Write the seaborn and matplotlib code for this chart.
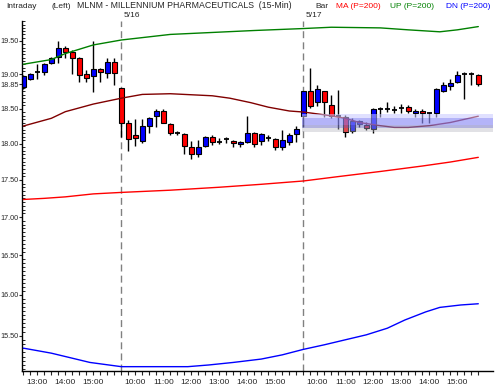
import matplotlib
matplotlib.use("Agg")
import matplotlib.pyplot as plt
import matplotlib.transforms as mtransforms
import seaborn as sns
from matplotlib.ticker import FixedLocator, FixedFormatter, NullFormatter

# 15-min bars: 5/15 12:30 -> 15:45, 5/16 and 5/17 full sessions
bar_idx = list(range(66))
opens = [18.82, 18.935, 19.03, 19.04, 19.165, 19.255, 19.39, 19.33, 19.25, 19.00,
         18.98, 19.08, 19.02, 19.18,
         18.795, 18.29, 18.125, 18.04, 18.255, 18.395, 18.47, 18.28, 18.145, 18.135,
         17.95, 17.855, 17.975, 18.09, 18.03, 18.06, 18.04, 18.00, 18.03, 18.147,
         18.043, 18.086, 18.06, 17.96, 18.03, 18.133,
         18.395, 18.756, 18.60, 18.756, 18.55, 18.40, 18.385, 18.186, 18.276, 18.267,
         18.214, 18.50, 18.495, 18.48, 18.505, 18.52, 18.435, 18.467, 18.443, 18.443,
         18.762, 18.833, 18.891, 19.00, 19.00, 18.99]
highs = [18.99, 19.025, 19.15, 19.17, 19.255, 19.50, 19.43, 19.37, 19.26, 19.065,
         19.50, 19.10, 19.24, 19.24,
         18.80, 18.34, 18.35, 18.35, 18.375, 18.50, 18.49, 18.30, 18.18, 18.15,
         18.04, 18.05, 18.11, 18.125, 18.077, 18.09, 18.055, 18.043, 18.40, 18.17,
         18.147, 18.125, 18.085, 18.196, 18.157, 18.253,
         18.76, 19.09, 18.84, 18.756, 18.70, 18.77, 18.41, 18.36, 18.336, 18.303,
         18.505, 18.52, 18.59, 18.53, 18.566, 18.553, 18.49, 18.49, 18.45, 18.795,
         18.891, 18.926, 19.05, 19.04, 19.03, 19.005]
lows = [18.78, 18.92, 18.93, 18.99, 19.15, 19.17, 19.25, 19.01, 18.89, 18.89,
        18.74, 18.89, 18.95, 18.84,
        18.10, 17.90, 17.97, 18.005, 18.15, 18.24, 18.29, 18.125, 18.125, 17.86,
        17.79, 17.82, 17.96, 17.985, 17.995, 18.005, 17.95, 17.96, 18.005, 17.96,
        17.985, 18.043, 17.915, 17.915, 17.985, 18.03,
        18.24, 18.505, 18.53, 18.375, 18.36, 18.21, 18.09, 18.147, 18.243, 18.19,
        18.147, 18.375, 18.457, 18.44, 18.443, 18.443, 18.385, 18.289, 18.289, 18.385,
        18.747, 18.77, 18.874, 18.635, 18.843, 18.829]
closes = [18.97, 19.00, 19.03, 19.15, 19.24, 19.39, 19.34, 19.25, 18.99, 18.95,
          19.075, 19.04, 19.18, 19.015,
          18.30, 18.06, 18.08, 18.25, 18.36, 18.47, 18.30, 18.15, 18.145, 17.97,
          17.855, 17.95, 18.09, 18.02, 18.03, 18.06, 18.005, 18.03, 18.15, 18.00,
          18.137, 18.086, 17.96, 18.055, 18.125, 18.21,
          18.756, 18.54, 18.78, 18.60, 18.40, 18.40, 18.16, 18.324, 18.315, 18.22,
          18.49, 18.50, 18.495, 18.48, 18.505, 18.47, 18.467, 18.435, 18.443, 18.78,
          18.843, 18.877, 18.99, 19.00, 19.00, 18.85]

# envelope lines (read at sample bars)
up_x = [0, 4, 6, 10, 14, 21, 33, 40, 44, 51, 55, 59.5, 62, 65]
up_y = [19.15, 19.22, 19.31, 19.44, 19.515, 19.60, 19.66, 19.69, 19.71, 19.70,
        19.67, 19.64, 19.67, 19.72]
ma_x = [0, 3, 6, 10, 14, 21, 28, 34, 40, 45, 51, 57, 61, 65]
ma_y = [17.235, 17.25, 17.27, 17.31, 17.33, 17.36, 17.40, 17.44, 17.485, 17.545,
        17.615, 17.69, 17.745, 17.81]
dn_x = [0, 4, 7, 9.5, 14, 23.5, 26.5, 30, 34, 37, 40, 43, 46, 49, 52, 54.5, 57.5,
        59.5, 62.5, 65]
dn_y = [15.35, 15.29, 15.23, 15.18, 15.13, 15.13, 15.15, 15.18, 15.22, 15.27,
        15.335, 15.39, 15.45, 15.51, 15.59, 15.69, 15.79, 15.845, 15.875, 15.89]
slow_x = [0, 4, 6, 10, 14, 17, 21, 23, 27, 29.5, 32.5, 35, 38, 40, 43, 46, 48, 51,
          53, 55, 58, 61, 65]
slow_y = [18.25, 18.36, 18.455, 18.565, 18.65, 18.705, 18.715, 18.705, 18.685, 18.65,
          18.585, 18.52, 18.465, 18.45, 18.41, 18.36, 18.30, 18.255, 18.23, 18.23,
          18.255, 18.30, 18.39]

day_starts = [14, 40]
day_labels = ["5/16", "5/17"]
hour_idx = [2, 6, 10, 16, 20, 24, 28, 32, 36, 42, 46, 50, 54, 58, 62]
hour_labels = ["13:00", "14:00", "15:00", "10:00", "11:00", "12:00", "13:00", "14:00",
               "15:00", "10:00", "11:00", "12:00", "13:00", "14:00", "15:00"]
price_ticks = [15.5, 16.0, 16.5, 17.0, 17.5, 18.0, 18.5, 19.0, 19.5, 18.85]

# shaded zone
zone_start = 39.75
zone_levels = [18.42, 18.37, 18.27, 18.22, 18.17]
zone_colors = ["#c8c8ff", "#8c8cf5", "#8080c8", "#b4b4be"]
zone_alpha = [0.55, 0.65, 0.6, 0.4]

sns.set_style("white")
plt.rcParams['font.family'] = ['Liberation Sans', 'DejaVu Sans']

fig = plt.figure(figsize=(4.95, 3.92), dpi=100)
ax = fig.add_axes([22 / 495, 1 - 371 / 392, 471 / 495, 350 / 392])
ax.set_yscale('log')

for d in day_starts:
    ax.axvline(d, color='#808080', lw=1, ls=(0, (5, 3)), zorder=1)

# candles
for i in bar_idx:
    o, h, l, c = opens[i], highs[i], lows[i], closes[i]
    ax.vlines(i, l, h, color='black', lw=1, zorder=2)
    if o == c:
        ax.hlines(c, i - 0.4, i + 0.4, color='black', lw=1.3, zorder=2)
    else:
        col = 'blue' if c > o else 'red'
        ax.bar(i, abs(c - o), bottom=min(o, c), width=0.72, color=col,
               edgecolor='black', linewidth=0.8, zorder=2)

sns.lineplot(x=up_x, y=up_y, ax=ax, color='#008000', lw=1, zorder=3)
sns.lineplot(x=ma_x, y=ma_y, ax=ax, color='#ff0000', lw=1, zorder=3)
sns.lineplot(x=dn_x, y=dn_y, ax=ax, color='#0000ff', lw=1, zorder=3)
sns.lineplot(x=slow_x, y=slow_y, ax=ax, color='#800000', lw=1, zorder=3)

xmax = 67.1
for k in range(len(zone_colors)):
    ax.fill_between([zone_start, xmax], zone_levels[k + 1], zone_levels[k],
                    color=zone_colors[k], alpha=zone_alpha[k], lw=0, zorder=4)

ax.set_xlim(-0.19, xmax)
ax.set_ylim(15.079, 19.806)

ax.xaxis.set_major_locator(FixedLocator(hour_idx))
ax.xaxis.set_major_formatter(FixedFormatter(hour_labels))
ax.xaxis.set_minor_locator(FixedLocator(bar_idx))
ax.tick_params(axis='x', which='both', direction='out', length=3, width=0.8,
               labelsize=6, pad=3, bottom=True)

ax.yaxis.set_major_locator(FixedLocator(price_ticks))
ax.yaxis.set_major_formatter(FixedFormatter([f"{p:.2f}" for p in price_ticks]))
ax.yaxis.set_minor_locator(FixedLocator([15.1 + 0.05 * k for k in range(95)]))
ax.yaxis.set_minor_formatter(NullFormatter())
ax.tick_params(axis='y', which='major', direction='out', length=2, width=0.8,
               labelsize=5.2, pad=0.5, left=True)
ax.tick_params(axis='y', which='minor', direction='in', length=2, width=0.7, left=True)

sns.despine(ax=ax)
for s in ['left', 'bottom']:
    ax.spines[s].set_color('black')
    ax.spines[s].set_linewidth(1)

trans = mtransforms.blended_transform_factory(ax.transData, ax.transAxes)
for d, lab in zip(day_starts, day_labels):
    ax.text(d + 0.3, 1.017, lab, transform=trans, ha='left', va='center', fontsize=6)

hy = 1 - 6 / 392
fig.text(6 / 495, hy, "Intraday", fontsize=6, va='center')
fig.text(51 / 495, hy, "(Left)", fontsize=6, va='center')
fig.text(77 / 495, hy, "MLNM - MILLENNIUM PHARMACEUTICALS  (15-Min)", fontsize=6.3, va='center')
fig.text(315 / 495, hy, "Bar", fontsize=6, va='center')
fig.text(336 / 495, hy, "MA (P=200)", fontsize=6, va='center', color='#ff0000')
fig.text(390 / 495, hy, "UP (P=200)", fontsize=6, va='center', color='#008000')
fig.text(446 / 495, hy, "DN (P=200)", fontsize=6, va='center', color='#0000ff')

fig.savefig("out.png", dpi=100)
